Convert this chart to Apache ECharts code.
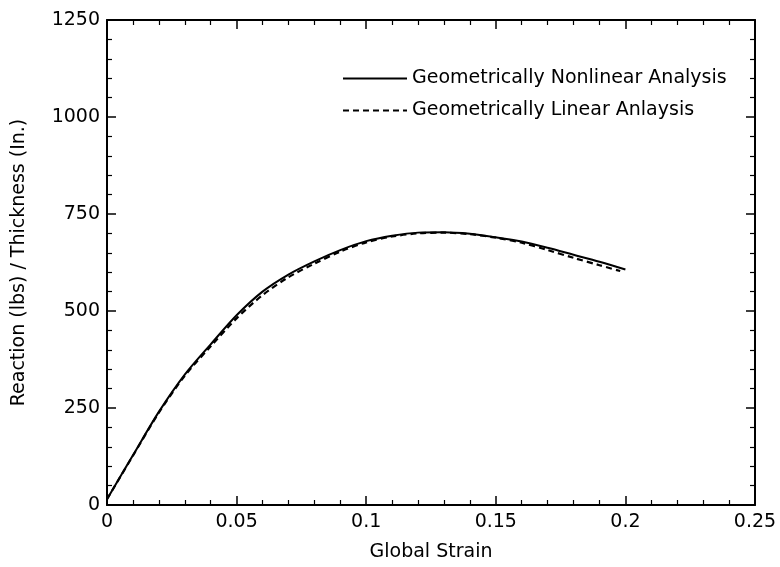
<!DOCTYPE html>
<html><head><meta charset="utf-8">
<script src="https://cdn.jsdelivr.net/npm/echarts@6/dist/echarts.min.js"></script>
<style>html,body{margin:0;padding:0;background:#fff}#c{width:780px;height:567px}</style>
</head><body><div id="c"></div>
<script>
const strainNL = [0,0.01,0.02,0.03,0.04,0.05,0.06,0.07,0.08,0.09,0.10,0.11,0.12,0.13,0.14,0.15,0.16,0.17,0.18,0.19,0.20];
const reactNL  = [15,128,240,336,414,489,550,594,628,657,680,694,702,703,699,690,679,663,645,627,607];
const strainL  = [0,0.01,0.02,0.03,0.04,0.05,0.06,0.07,0.08,0.09,0.10,0.11,0.12,0.13,0.14,0.15,0.16,0.17,0.18,0.19,0.198];
const reactL   = [15,127,238,333,409,481,541,587,622,653,677,692,700,702,698,689,676,657,637,618,603];
const xTicks = [0,0.05,0.1,0.15,0.2,0.25];
const yTicks = [0,250,500,750,1000,1250];
const seriesNames = ['Geometrically Nonlinear Analysis','Geometrically Linear Anlaysis'];

const FONT = 'DejaVu Sans';
const frameAxis = (extra) => Object.assign({
  axisLine:{show:true,onZero:false,lineStyle:{color:'#000',width:2}},
  axisTick:{show:true,inside:true,length:9,lineStyle:{color:'#000',width:1.5}},
  minorTick:{show:true,splitNumber:5,length:5,lineStyle:{color:'#000',width:1.2}},
  splitLine:{show:false}
}, extra);

const chart = echarts.init(document.getElementById('c'));
chart.setOption({
  animation:false,
  backgroundColor:'#fff',
  grid:{left:107,right:25,top:20,bottom:62},
  legend:{
    orient:'vertical', left:337, top:64, itemWidth:64, itemHeight:20, itemGap:13,
    itemStyle:{opacity:0},
    textStyle:{fontFamily:FONT,fontSize:19,color:'#000'},
    data:seriesNames
  },
  xAxis:[
    frameAxis({type:'value',min:0,max:0.25,interval:0.05,position:'bottom',
      name:'Global Strain',nameLocation:'middle',nameGap:38,
      nameTextStyle:{fontFamily:FONT,fontSize:19,color:'#000'},
      axisLabel:{fontFamily:FONT,fontSize:19,color:'#000',margin:8,
        formatter:v=>xTicks.includes(+v.toFixed(2))?String(+v.toFixed(2)):''}}),
    frameAxis({type:'value',min:0,max:0.25,interval:0.05,position:'top',axisLabel:{show:false}})
  ],
  yAxis:[
    frameAxis({type:'value',min:0,max:1250,interval:250,position:'left',
      name:'Reaction (lbs) / Thickness (In.)',nameLocation:'middle',nameGap:78,
      nameTextStyle:{fontFamily:FONT,fontSize:19,color:'#000'},
      axisLabel:{fontFamily:FONT,fontSize:19,color:'#000',margin:7,
        formatter:v=>yTicks.includes(v)?String(v):''}}),
    frameAxis({type:'value',min:0,max:1250,interval:250,position:'right',axisLabel:{show:false}})
  ],
  series:[
    {name:seriesNames[0],type:'line',symbol:'none',smooth:0.3,
      data:strainNL.map((x,i)=>[x,reactNL[i]]),
      lineStyle:{color:'#000',width:2},itemStyle:{color:'#000'}},
    {name:seriesNames[1],type:'line',symbol:'none',smooth:0.3,
      data:strainL.map((x,i)=>[x,reactL[i]]),
      lineStyle:{color:'#000',width:2.2,type:[6,4]},itemStyle:{color:'#000'}}
  ]
});
</script></body></html>
